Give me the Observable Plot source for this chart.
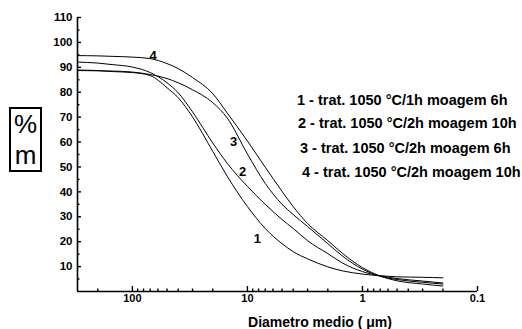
<!DOCTYPE html>
<html><head><meta charset="utf-8">
<script src="https://cdn.jsdelivr.net/npm/d3@7"></script>
<script src="https://cdn.jsdelivr.net/npm/@observablehq/plot@0.6"></script>
<style>
html,body{margin:0;padding:0;background:#fff;}
#wrap{position:relative;width:522px;height:329px;font-family:"Liberation Sans",Arial,sans-serif;color:#000;overflow:hidden;}
#wrap svg{position:absolute;left:0;top:0;}
.box{position:absolute;left:9px;top:107px;width:29px;height:61px;border:2px solid #000;}
.box span{position:absolute;left:0;width:29px;text-align:center;font-size:26px;line-height:30px;height:30px;}
.leg{position:absolute;font-weight:bold;font-size:14.5px;line-height:16px;white-space:nowrap;}
.xt{position:absolute;font-weight:bold;font-size:14px;line-height:16px;white-space:nowrap;transform:translateX(-50%);}
</style></head><body><div id="wrap"></div>
<script>
// Diameter (µm), x-axis
const diameters = [300,200,150,100,70,50,40,30,20,15,10,7,5,4,3,2,1.5,1,0.7,0.5,0.3,0.2];
// cumulative mass % for each treatment
const curve1 = [88.9,88.7,88.3,87.9,86.7,81.8,77.8,70.1,56.2,46.3,34.1,25.3,19.2,16.0,13.1,9.9,8.3,7.0,6.3,5.9,5.7,5.5];
const curve2 = [92.1,91.7,91.1,90.1,87.9,83.8,79.8,72.1,59.6,51.5,42.2,35.0,28.9,25.3,20.4,15.2,11.5,8.0,6.3,5.2,4.2,3.4];
const curve3 = [88.7,88.6,88.5,88.1,87.1,85.5,83.8,81.0,75.8,69.7,55.2,43.4,35.0,30.9,26.1,19.2,14.3,9.0,6.1,4.8,3.7,3.0];
const curve4 = [94.7,94.6,94.4,94.1,93.5,91.5,89.5,85.9,79.4,71.7,60.4,49.9,40.2,34.1,27.3,20.4,15.4,9.6,6.2,4.3,3.0,2.2];
const seriesNames = ["1","2","3","4"];
const legendLabels = [
  "1 - trat. 1050 °C/1h moagem 6h",
  "2 - trat. 1050 °C/2h moagem 10h",
  "3 - trat. 1050 °C/2h moagem 6h",
  "4 - trat. 1050 °C/2h moagem 10h"
];
// curve number labels (diameter, value)
const labelText = ["1","2","3","4"];
const labelD = [8.2, 11.0, 13.2, 66];
const labelV = [21.2, 48.2, 60.0, 94.6];
// axis ticks
const xMajor = [100, 10, 1, 0.1];
const xMajorLabels = ["100","10","1","0.1"];
const xMinor = [200,90,80,70,60,50,40,30,20,9,8,7,6,5,4,3,2,0.9,0.8,0.7,0.6,0.5,0.4,0.3,0.2];
const yMajor = [10,20,30,40,50,60,70,80,90,100,110];
const yMinor = [5,15,25,35,45,55,65,75,85,95,105];
const yTitle = ["%","m"];
const xTitle = "Diametro medio ( μm)";

const allCurves = [curve1, curve2, curve3, curve4];
const rows = [];
allCurves.forEach((c, i) => c.forEach((v, j) => rows.push({s: seriesNames[i], d: diameters[j], v})));
const labels = labelText.map((t, i) => ({t, d: labelD[i], v: labelV[i]}));

const W = 522, H = 329, mL = 77, mR = 45, mT = 17, mB = 38;
const fw = W - mL - mR, fh = H - mT - mB;

const plot = Plot.plot({
  width: W, height: H,
  marginLeft: mL, marginRight: mR, marginTop: mT, marginBottom: mB,
  x: {type: "log", domain: [300, 0.1]},
  y: {domain: [0, 110]},
  style: {fontFamily: "'Liberation Sans', Arial, sans-serif", fontSize: "11px", fontWeight: "bold", color: "#000", background: "#fff", overflow: "visible"},
  marks: [
    Plot.axisX(xMajor, {tickSize: 0, tickPadding: 3, tickFormat: d => xMajorLabels[xMajor.indexOf(d)], label: null, fontSize: 11, fontWeight: "bold"}),
    Plot.axisY(yMajor, {tickSize: 0, tickPadding: 5, label: null, fontSize: 11.5, fontWeight: "bold"}),
    // inward ticks
    Plot.tickX(xMajor, {x: d => d, insetTop: fh - 5, stroke: "#000", strokeWidth: 1.4}),
    Plot.tickX(xMinor, {x: d => d, insetTop: fh - 2.5, stroke: "#000", strokeWidth: 1.4}),
    Plot.tickY(yMajor, {y: d => d, insetRight: fw - 4, stroke: "#000", strokeWidth: 1.4}),
    Plot.tickY(yMinor, {y: d => d, insetRight: fw - 2.5, stroke: "#000", strokeWidth: 1.4}),
    Plot.ruleX([300], {stroke: "#000", strokeWidth: 1.6}),
    Plot.ruleY([0], {stroke: "#000", strokeWidth: 1.6}),
    Plot.line(rows, {x: "d", y: "v", z: "s", stroke: "#000", strokeWidth: 1, curve: "monotone-x"}),
    Plot.text(labels, {x: "d", y: "v", text: "t", fontSize: 13, fontWeight: "bold", fill: "#000"})
  ]
});
const wrap = document.getElementById("wrap");
wrap.appendChild(plot);

// y title box
const box = document.createElement("div");
box.className = "box";
yTitle.forEach((t, i) => {
  const s = document.createElement("span");
  s.textContent = t;
  s.style.top = (i === 0 ? 0 : 31) + "px";
  box.appendChild(s);
});
wrap.appendChild(box);

// legend
const legX = [297, 298, 300, 302];
const legY = [92, 115, 140, 164];
legendLabels.forEach((t, i) => {
  const d = document.createElement("div");
  d.className = "leg";
  d.textContent = t;
  d.style.left = legX[i] + "px";
  d.style.top = legY[i] + "px";
  wrap.appendChild(d);
});

// x title
const xt = document.createElement("div");
xt.className = "xt";
xt.textContent = xTitle;
xt.style.left = "320px";
xt.style.top = "314px";
wrap.appendChild(xt);
</script>
</body></html>
